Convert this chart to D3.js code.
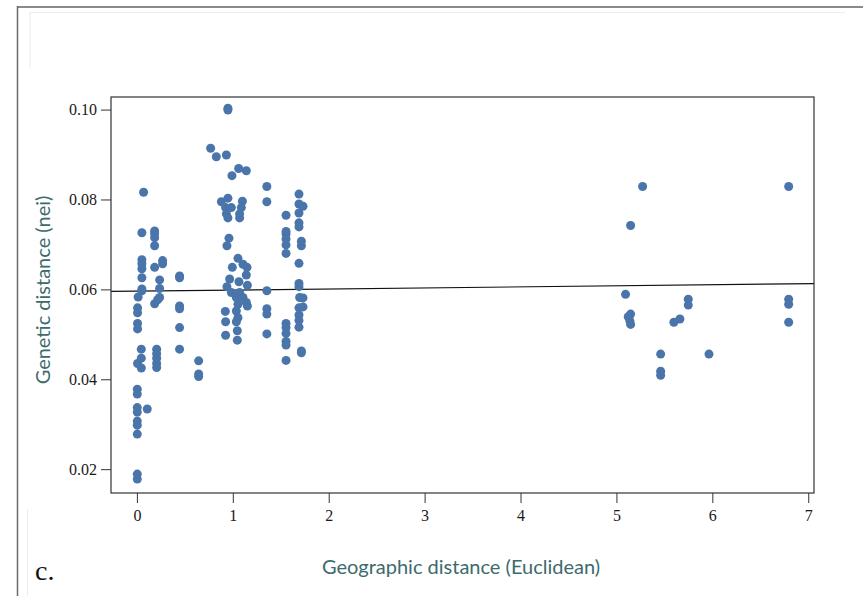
<!DOCTYPE html>
<html>
<head>
<meta charset="utf-8">
<script src="https://cdn.jsdelivr.net/npm/d3@7"></script>
<style>
  html, body { margin: 0; padding: 0; background: #fff; }
  svg { display: block; }
  .tick text { font-family: "Liberation Serif"; font-size: 16px; fill: #1a1a1a; }
  .axis-title { font-family: Lato; font-size: 20px; fill: #3d6a6c; }
  .panel-letter { font-family: "Liberation Serif"; font-size: 28px; fill: #111; }
</style>
</head>
<body>
<svg id="chart" width="863" height="596"></svg>
<script>
// Pairwise geographic (Euclidean) distance between sampling sites
const geoDist = [
  // sites near 0
  0.07, 0.052, 0.052, 0.052, 0.052, 0.052, 0.052, 0.052, 0.013, 0.007, 0.007, 0.007, 0.007,
  0.046, 0.046, 0.007, 0.046, 0.004, 0.004, 0.004, 0.004, 0.004, 0.004, 0.004, 0.004, 0.004, 0.108,
  // near 0.2
  0.185, 0.185, 0.185, 0.185, 0.268, 0.268, 0.185, 0.237, 0.237, 0.237, 0.216, 0.185,
  0.206, 0.206, 0.206, 0.206, 0.206,
  // near 0.45
  0.445, 0.445, 0.445, 0.445, 0.445, 0.445,
  // near 0.65
  0.644, 0.644, 0.644,
  // near 1
  0.949, 0.949, 0.769, 0.828, 0.933, 0.991, 1.061, 1.141,
  0.881, 0.949, 0.925, 0.985, 0.933, 0.949, 1.100, 1.089, 1.071, 1.071,
  0.960, 0.939, 1.054, 0.995, 1.106, 1.148, 1.141, 0.967, 1.064, 1.152, 0.939,
  0.985, 1.071, 1.037, 1.106, 1.141, 1.152, 1.054, 1.037, 0.922, 1.054, 0.925, 1.037,
  1.047, 0.925, 1.047,
  // near 1.35
  1.355, 1.355, 1.355, 1.355, 1.355, 1.355,
  // near 1.55
  1.555, 1.555, 1.555, 1.555, 1.555, 1.555, 1.555, 1.555, 1.555, 1.555, 1.555, 1.555,
  // near 1.7
  1.690, 1.690, 1.732, 1.690, 1.690, 1.690, 1.715, 1.715, 1.690, 1.690, 1.690, 1.697, 1.732,
  1.732, 1.690, 1.690, 1.690, 1.690, 1.715, 1.715,
  // distant sites
  5.273, 5.148, 5.095, 5.148, 5.123, 5.140, 5.148, 5.749, 5.749, 5.662, 5.599,
  5.461, 5.461, 5.461, 5.965, 6.796, 6.796, 6.796, 6.796
];

// Nei's genetic distance for the same pairs
const geneticDist = [
  0.0816, 0.0726, 0.0666, 0.0657, 0.0646, 0.0626, 0.0601, 0.0597, 0.0583, 0.0559, 0.0548, 0.0524, 0.0512,
  0.0467, 0.0447, 0.0435, 0.0425, 0.0378, 0.0367, 0.0337, 0.0327, 0.0307, 0.0298, 0.0278, 0.0189, 0.0178, 0.0334,
  0.0730, 0.0724, 0.0715, 0.0697, 0.0664, 0.0657, 0.0649, 0.0621, 0.0602, 0.0582, 0.0577, 0.0568,
  0.0467, 0.0457, 0.0447, 0.0435, 0.0426,
  0.0630, 0.0626, 0.0563, 0.0557, 0.0515, 0.0467,
  0.0441, 0.0412, 0.0406,
  0.1003, 0.0999, 0.0914, 0.0895, 0.0899, 0.0853, 0.0869, 0.0864,
  0.0795, 0.0803, 0.0782, 0.0782, 0.0768, 0.0759, 0.0796, 0.0782, 0.0768, 0.0759,
  0.0714, 0.0697, 0.0669, 0.0649, 0.0656, 0.0649, 0.0632, 0.0623, 0.0617, 0.0609, 0.0606,
  0.0593, 0.0593, 0.0582, 0.0582, 0.0571, 0.0563, 0.0567, 0.0552, 0.0551, 0.0537, 0.0528, 0.0528,
  0.0508, 0.0498, 0.0487,
  0.0829, 0.0795, 0.0597, 0.0557, 0.0545, 0.0501,
  0.0765, 0.0729, 0.0723, 0.0712, 0.0699, 0.0680, 0.0524, 0.0515, 0.0502, 0.0484, 0.0476, 0.0442,
  0.0812, 0.0790, 0.0785, 0.0770, 0.0748, 0.0739, 0.0707, 0.0697, 0.0658, 0.0613, 0.0606, 0.0582, 0.0581,
  0.0561, 0.0559, 0.0543, 0.0531, 0.0516, 0.0463, 0.0459,
  0.0829, 0.0742, 0.0589, 0.0545, 0.0539, 0.0530, 0.0522, 0.0578, 0.0565, 0.0534, 0.0527,
  0.0456, 0.0418, 0.0409, 0.0456, 0.0829, 0.0578, 0.0567, 0.0527
];

// Axis ticks
const xTicks = [0, 1, 2, 3, 4, 5, 6, 7];
const yTicks = [0.02, 0.04, 0.06, 0.08, 0.10];

// Linear fit of genetic on geographic distance
const fitIntercept = 0.0596;
const fitSlope = 0.00024;

const points = geoDist.map((g, i) => ({ x: g, y: geneticDist[i] }));

const svg = d3.select("#chart");
const plot = { left: 111, right: 814, top: 97, bottom: 493 };

const x = d3.scaleLinear().domain([-0.27, 7.06]).range([plot.left, plot.right]);
const y = d3.scaleLinear().domain([0.0147, 0.1028]).range([plot.bottom, plot.top]);

// Page framing lines
svg.append("line").attr("x1", 17).attr("x2", 863).attr("y1", 7).attr("y2", 7)
  .attr("stroke", "#8a8a8a").attr("stroke-width", 2);
svg.append("line").attr("x1", 17.5).attr("x2", 17.5).attr("y1", 6).attr("y2", 596)
  .attr("stroke", "#6a6a6a").attr("stroke-width", 1.5);
svg.append("path").attr("d", "M30,68V12.5H845")
  .attr("fill", "none").attr("stroke", "#ececec").attr("stroke-width", 1);
svg.append("line").attr("x1", 27.5).attr("x2", 27.5).attr("y1", 509).attr("y2", 596)
  .attr("stroke", "#ececec").attr("stroke-width", 1);

// Axes
const xAxis = svg.append("g")
  .attr("transform", `translate(0,${plot.bottom})`)
  .call(d3.axisBottom(x).tickValues(xTicks).tickFormat(d3.format("d")).tickSize(10).tickPadding(7));
const yAxis = svg.append("g")
  .attr("transform", `translate(${plot.left},0)`)
  .call(d3.axisLeft(y).tickValues(yTicks).tickFormat(d3.format(".2f")).tickSize(10).tickPadding(4));

[xAxis, yAxis].forEach(a => {
  a.attr("font-family", null).attr("font-size", null);
  a.select(".domain").remove();
  a.selectAll(".tick line").attr("stroke", "#333").attr("stroke-width", 1);
});

// Fitted line
svg.append("line")
  .attr("x1", x(-0.27)).attr("y1", y(fitIntercept + fitSlope * -0.27))
  .attr("x2", x(7.06)).attr("y2", y(fitIntercept + fitSlope * 7.06))
  .attr("stroke", "#111").attr("stroke-width", 1.2);

// Points
svg.append("g").selectAll("circle")
  .data(points)
  .join("circle")
  .attr("cx", d => x(d.x))
  .attr("cy", d => y(d.y))
  .attr("r", 4.5)
  .attr("fill", "#4a75aa");

// Plot frame
svg.append("rect")
  .attr("x", plot.left).attr("y", plot.top)
  .attr("width", plot.right - plot.left).attr("height", plot.bottom - plot.top)
  .attr("fill", "none").attr("stroke", "#333").attr("stroke-width", 1.2);

// Axis titles
svg.append("text")
  .attr("class", "axis-title")
  .attr("transform", `translate(50,290) rotate(-90)`)
  .attr("text-anchor", "middle")
  .text("Genetic distance (nei)");
svg.append("text")
  .attr("class", "axis-title")
  .attr("x", 461).attr("y", 574)
  .attr("text-anchor", "middle")
  .text("Geographic distance (Euclidean)");

// Panel letter
svg.append("text")
  .attr("class", "panel-letter")
  .attr("x", 35).attr("y", 580)
  .text("c.");
</script>
</body>
</html>
